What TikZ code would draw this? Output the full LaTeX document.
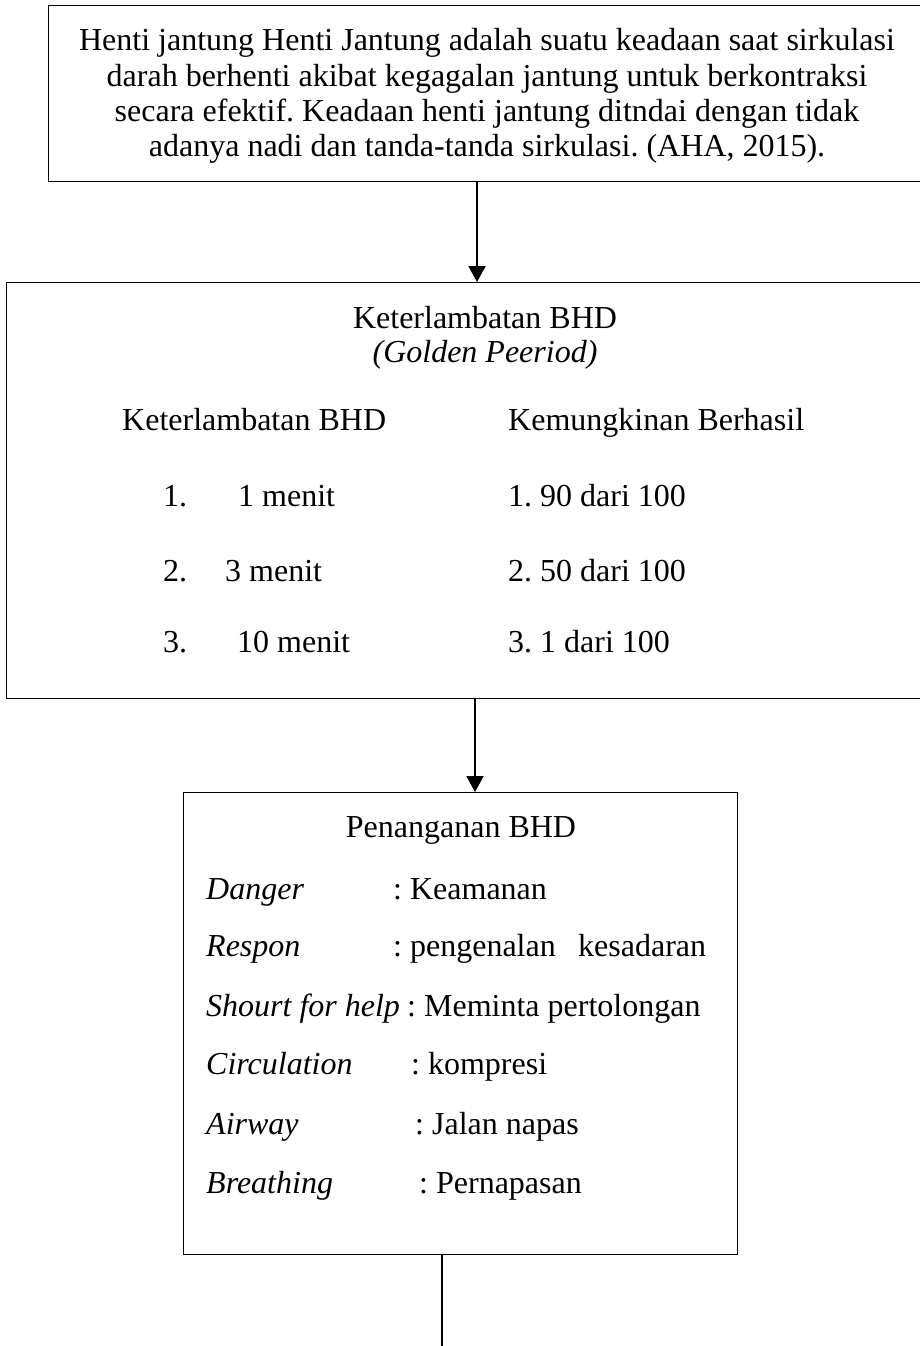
\documentclass[tikz,border=0pt]{standalone}
\usepackage{fontspec}
\setmainfont{Liberation Serif}
\usetikzlibrary{arrows.meta}
\frenchspacing
\begin{document}
\begin{tikzpicture}[x=1pt,y=-1pt,
  box/.style={draw, line width=1.4pt, inner sep=0pt, anchor=north west},
  txt/.style={inner sep=0pt, font=\fontsize{32}{35}\selectfont},
  ln/.style={txt, anchor=base},
  lw/.style={txt, anchor=base west},
  arr/.style={line width=2pt, -{Triangle[length=16pt,width=17pt]}},
  plain/.style={line width=1.4pt}]
\useasboundingbox (0,0) rectangle (920,1346);
\fill[white] (0,0) rectangle (920,1346);
% boxes
\node[box, minimum width=878pt, minimum height=176pt] (b1) at (48,5) {};
\node[box, minimum width=920pt, minimum height=416pt] (b2) at (6,282) {};
\node[box, minimum width=554pt, minimum height=462pt] (b3) at (183,792) {};
% box 1 text
\node[ln] (t1a) at (487,51) {Henti jantung Henti Jantung adalah suatu keadaan saat sirkulasi};
\node[ln] (t1b) at (487,86) {darah berhenti akibat kegagalan jantung untuk berkontraksi};
\node[ln] (t1c) at (487,121) {secara efektif. Keadaan henti jantung ditndai dengan tidak};
\node[ln] (t1d) at (487,156) {adanya nadi dan tanda-tanda sirkulasi. (AHA, 2015).};
% box 2 text
\node[ln] (t2a) at (485,328) {Keterlambatan BHD};
\node[ln] (t2b) at (485,362) {\itshape (Golden Peeriod)};
\node[lw] (h1) at (122,430) {Keterlambatan BHD};
\node[lw] (h2) at (508,430) {Kemungkinan Berhasil};
\node[lw] (n1) at (163,506) {1.};
\node[lw] (m1) at (238,506) {1 menit};
\node[lw] (r1) at (508,506) {1. 90 dari 100};
\node[lw] (n2) at (163,581) {2.};
\node[lw] (m2) at (225,581) {3 menit};
\node[lw] (r2) at (508,581) {2. 50 dari 100};
\node[lw] (n3) at (163,652) {3.};
\node[lw] (m3) at (237,652) {10 menit};
\node[lw] (r3) at (508,652) {3. 1 dari 100};
% box 3 text
\node[ln] (t3) at (461,837) {Penanganan BHD};
\node[lw] (k1) at (206,899) {\itshape Danger};
\node[lw] (v1) at (393,899) {: Keamanan};
\node[lw] (k2) at (206,956) {\itshape Respon};
\node[lw] (v2) at (393,956) {: pengenalan\hspace{0.7em}kesadaran};
\node[lw] (k3) at (206,1016) {\itshape Shourt for help};
\node[lw] (v3) at (407,1016) {: Meminta pertolongan};
\node[lw] (k4) at (206,1074) {\itshape Circulation};
\node[lw] (v4) at (411,1074) {: kompresi};
\node[lw] (k5) at (206,1134) {\itshape Airway};
\node[lw] (v5) at (415,1134) {: Jalan napas};
\node[lw] (k6) at (206,1193) {\itshape Breathing};
\node[lw] (v6) at (419,1193) {: Pernapasan};
% connectors
\coordinate (x1) at (477,0);
\coordinate (x2) at (475,0);
\coordinate (x3) at (442,0);
\coordinate (end) at (442,1350);
\draw[arr] (b1.south -| x1) -- (b2.north -| x1);
\draw[arr] (b2.south -| x2) -- (b3.north -| x2);
\draw[plain] (b3.south -| x3) -- (end);
\end{tikzpicture}
\end{document}
